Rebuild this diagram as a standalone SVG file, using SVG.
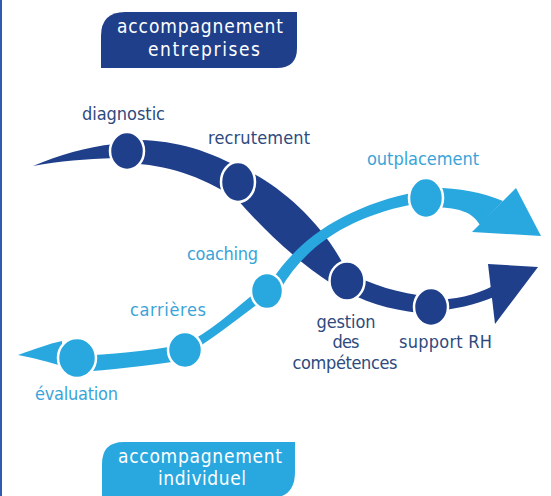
<svg xmlns="http://www.w3.org/2000/svg" width="551" height="496" viewBox="0 0 551 496">
<style>
.dk{fill:#1f3f8b}
.lt{fill:#29a8e0}
.nd{stroke:#fff;stroke-width:2.5}
text{font-family:"DejaVu Sans Condensed","Liberation Sans Narrow","DejaVu Sans",sans-serif;font-stretch:condensed;font-size:18px}
.ld{fill:#2e4a7e}
.ll{fill:#3aa4d8}
.bx{fill:#fff;font-size:19px}
</style>
<rect width="551" height="496" fill="#fff"/>
<rect x="0" y="0" width="2" height="496" fill="#2f5cae"/>

<g id="box-entreprises">
<path class="dk" d="M101,68 V36 Q101,12 125,12 H297 V48 Q297,68 277,68 Z"/>
<text class="bx" x="200" y="33" text-anchor="middle" textLength="166">accompagnement</text>
<text class="bx" x="204" y="56" text-anchor="middle" textLength="112">entreprises</text>
</g>

<g id="box-individuel">
<path class="lt" d="M102,502 V464 Q102,442 124,442 H295 V472 Q295,498 270,498 H102 Z"/>
<text class="bx" x="200" y="463" text-anchor="middle" textLength="164">accompagnement</text>
<text class="bx" x="202" y="485" text-anchor="middle" textLength="88">individuel</text>
</g>

<g id="connectors">
<path class="dk" d="M33,166 C60,155 85,147 115,144 L115,158 C85,159 60,161 33,166 Z"/>
<path class="dk" d="M127,140 C165,139 200,146 240,168 L232,196 C200,176 168,165 127,163 Z"/>
<path class="dk" d="M236,166 C270,178 316,215 342,262 L332,284 C295,260 262,228 236,198 Z"/>
<path class="dk" d="M347,272 C372,285 398,293 431,297 L431,314 C400,312 372,305 347,292 Z"/>
<path class="dk" d="M431,300 C455,300 475,295 493,286 L494,297 C475,305 455,309 431,312 Z"/>
<polygon class="dk" points="488,264 538,267 495,324"/>
<path class="lt" d="M18,355 C35,349 48,344 62,341 L62,366 C48,362 35,358 18,355 Z"/>
<path class="lt" d="M77,356 C110,354 145,352 185,344 L185,360 C145,366 110,370 77,372 Z"/>
<path class="lt" d="M185,344 C212,331 238,306 267,283 L267,297 C245,313 218,335 185,356 Z"/>
<path class="lt" d="M272,280 C300,238 345,206 420,191 L420,203 C350,215 305,246 280,290 Z"/>
<path class="lt" d="M426,188 C455,187 480,192 503,201 L480,225 C472,212 460,207 426,207 Z"/>
<polygon class="lt" points="516,188 541,236 472,232"/>
</g>

<g id="node-diagnostic">
<ellipse class="dk nd" cx="127" cy="151" rx="17" ry="19"/>
<text class="ld" x="82" y="120" textLength="83">diagnostic</text>
</g>
<g id="node-recrutement">
<ellipse class="dk nd" cx="238" cy="182" rx="17" ry="20"/>
<text class="ld" x="208" y="144" textLength="102">recrutement</text>
</g>
<g id="node-gestion">
<ellipse class="dk nd" cx="347" cy="281" rx="17.5" ry="19.5"/>
<text class="ld" x="346" y="328" text-anchor="middle" textLength="59">gestion</text>
<text class="ld" x="346" y="348" text-anchor="middle" textLength="27">des</text>
<text class="ld" x="345" y="369" text-anchor="middle" textLength="105">compétences</text>
</g>
<g id="node-support">
<ellipse class="dk nd" cx="431" cy="307" rx="17" ry="19"/>
<text class="ld" x="399" y="348" textLength="93">support RH</text>
</g>
<g id="node-evaluation">
<ellipse class="lt nd" cx="77" cy="358" rx="19" ry="20"/>
<text class="ll" x="35" y="400" textLength="83">évaluation</text>
</g>
<g id="node-carrieres">
<ellipse class="lt nd" cx="185" cy="350" rx="17" ry="18"/>
<text class="ll" x="130" y="316" textLength="76">carrières</text>
</g>
<g id="node-coaching">
<ellipse class="lt nd" cx="267" cy="291" rx="16" ry="18"/>
<text class="ll" x="187" y="260" textLength="71">coaching</text>
</g>
<g id="node-outplacement">
<ellipse class="lt nd" cx="426" cy="198" rx="17" ry="20"/>
<text class="ll" x="367" y="165" textLength="112">outplacement</text>
</g>
</svg>
